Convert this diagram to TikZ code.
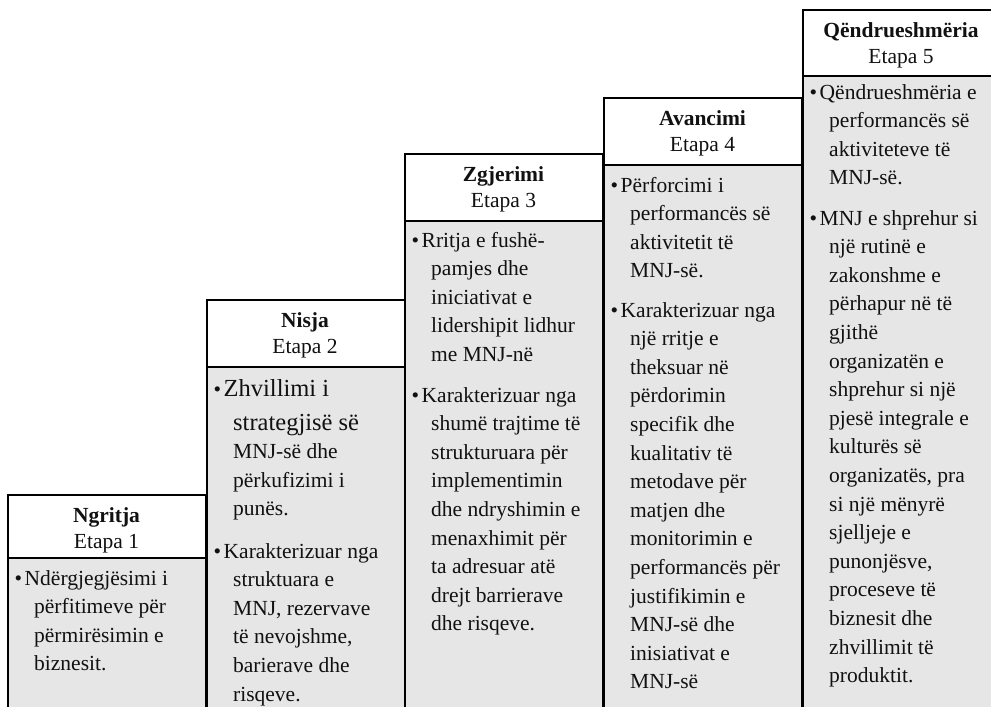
\documentclass[tikz,border=0pt]{standalone}
\usepackage{fontspec}
\setmainfont{Liberation Serif}
\definecolor{bodygray}{HTML}{E6E6E6}
\definecolor{inkc}{HTML}{111111}
\newcommand\bodyfont{\fontsize{21.5}{28.6}\selectfont}
\newcommand\bigfont{\fontsize{24.5}{28.6}\selectfont}
\newcommand\bitem[1]{\parbox[t]{190pt}{\bodyfont\raggedright\leavevmode\hangindent=9.5pt\hangafter=1\relax\llap{\textbullet\hspace{2.5pt}}#1}}
\newcommand\nl{\newline}
\tikzset{
  hdrbox/.style={draw=black, line width=1.5pt, fill=white, anchor=north west, inner sep=0, minimum width=198pt},
  bodybox/.style={draw=black, line width=1.5pt, fill=bodygray, anchor=north west, inner sep=0, minimum width=198pt},
  ttl/.style={anchor=base, inner sep=0, text=inkc, font=\fontsize{21.5}{26}\selectfont\bfseries},
  stg/.style={anchor=base, inner sep=0, text=inkc, font=\fontsize{21.5}{26}\selectfont},
  para/.style={anchor=base west, inner sep=0, text=inkc},
}
\begin{document}
\begin{tikzpicture}[x=1pt,y=-1pt]
\useasboundingbox (0,0) rectangle (991,707);
\clip (0,0) rectangle (991,707);
% bodies
\node[bodybox, minimum height=170pt] (b1) at (7,557) {};
\node[bodybox, minimum height=360pt] (b2) at (206,366) {};
\node[bodybox, minimum height=505pt] (b3) at (404,220) {};
\node[bodybox, minimum height=560pt] (b4) at (603,164) {};
\node[bodybox, minimum height=650pt] (b5) at (802,75) {};
% headers
\node[hdrbox, minimum height=63pt] (h1) at (7,494) {};
\node[hdrbox, minimum height=67pt] (h2) at (206,299) {};
\node[hdrbox, minimum height=67pt] (h3) at (404,153) {};
\node[hdrbox, minimum height=67pt] (h4) at (603,97) {};
\node[hdrbox, minimum height=66pt] (h5) at (802,9) {};
% header texts
\node[ttl] (t1) at (106.5,522) {Ngritja};
\node[stg] (s1) at (106.5,548.5) {Etapa 1};
\node[ttl] (t2) at (305,327) {Nisja};
\node[stg] (s2) at (305,353.5) {Etapa 2};
\node[ttl] (t3) at (503.5,181.5) {Zgjerimi};
\node[stg] (s3) at (503.5,207.5) {Etapa 3};
\node[ttl] (t4) at (702.5,125) {Avancimi};
\node[stg] (s4) at (702.5,151.5) {Etapa 4};
\node[ttl] (t5) at (901,37) {Qëndrueshmëria};
\node[stg] (s5) at (901,63.5) {Etapa 5};
% column 1
\node[para] (p1a) at (24.5,585) {\bitem{Ndërgjegjësimi i\nl përfitimeve për\nl përmirësimin e\nl biznesit.}};
% column 2
\node[para] (p2a) at (223.5,396) {\bitem{{\bigfont Zhvillimi i}\vspace{5.4pt}\nl{\bigfont strategjisë së}\nl MNJ-së dhe\nl përkufizimi i\nl punës.}};
\node[para] (p2b) at (223.5,558) {\bitem{Karakterizuar nga\nl struktuara e\nl MNJ, rezervave\nl të nevojshme,\nl barierave dhe\nl risqeve.}};
% column 3
\node[para] (p3a) at (421.5,247) {\bitem{Rritja e fushë-\nl pamjes dhe\nl iniciativat e\nl lidershipit lidhur\nl me MNJ-në}};
\node[para] (p3b) at (421.5,402) {\bitem{Karakterizuar nga\nl shumë trajtime të\nl strukturuara për\nl implementimin\nl dhe ndryshimin e\nl menaxhimit për\nl ta adresuar atë\nl drejt barrierave\nl dhe risqeve.}};
% column 4
\node[para] (p4a) at (620.5,192) {\bitem{Përforcimi i\nl performancës së\nl aktivitetit të\nl MNJ-së.}};
\node[para] (p4b) at (620.5,317) {\bitem{Karakterizuar nga\nl një rritje e\nl theksuar në\nl përdorimin\nl specifik dhe\nl kualitativ të\nl metodave për\nl matjen dhe\nl monitorimin e\nl performancës për\nl justifikimin e\nl MNJ-së dhe\nl inisiativat e\nl MNJ-së}};
% column 5
\node[para] (p5a) at (819.5,99) {\bitem{Qëndrueshmëria e\nl performancës së\nl aktiviteteve të\nl MNJ-së.}};
\node[para] (p5b) at (819.5,225) {\bitem{MNJ e shprehur si\nl një rutinë e\nl zakonshme e\nl përhapur në të\nl gjithë\nl organizatën e\nl shprehur si një\nl pjesë integrale e\nl kulturës së\nl organizatës, pra\nl si një mënyrë\nl sjelljeje e\nl punonjësve,\nl proceseve të\nl biznesit dhe\nl zhvillimit të\nl produktit.}};
\end{tikzpicture}
\end{document}
